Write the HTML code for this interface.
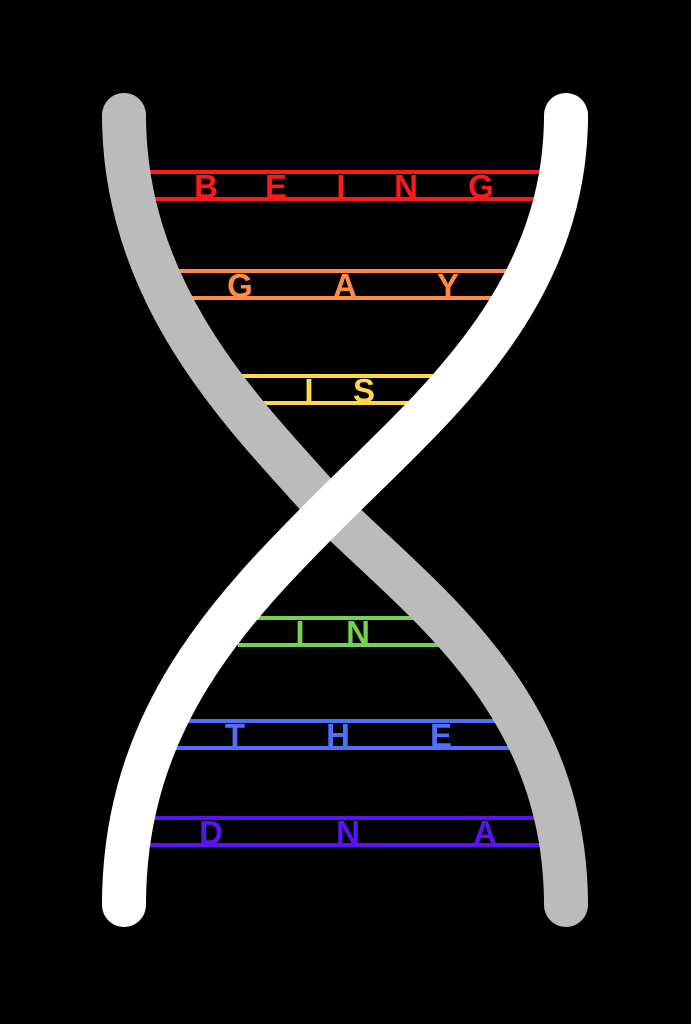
<!DOCTYPE html>
<html><head><style>html,body{margin:0;background:#000;}svg{display:block}</style></head>
<body>
<svg width="691" height="1024" viewBox="0 0 691 1024" xmlns="http://www.w3.org/2000/svg">
<rect width="691" height="1024" fill="#000"/>
<g stroke-width="4" font-family="Liberation Sans, sans-serif" font-weight="bold" font-size="33" text-anchor="middle">
<g stroke="#ff1a1a" fill="#ff1a1a">
<line x1="140" y1="172" x2="545" y2="172"/><line x1="140" y1="199" x2="545" y2="199"/>
<text stroke="none" x="206" y="198">B</text><text stroke="none" x="276" y="198">E</text><text stroke="none" x="341" y="198">I</text><text stroke="none" x="406" y="198">N</text><text stroke="none" x="481" y="198">G</text></g>
<g stroke="#ff8c42" fill="#ff8c42">
<line x1="175" y1="271" x2="510" y2="271"/><line x1="175" y1="298" x2="505" y2="298"/>
<text stroke="none" x="240" y="297">G</text><text stroke="none" x="345" y="297">A</text><text stroke="none" x="448" y="297">Y</text></g>
<g stroke="#ffd84a" fill="#ffd84a">
<line x1="235" y1="376" x2="445" y2="376"/><line x1="245" y1="403" x2="440" y2="403"/>
<text stroke="none" x="309" y="402">I</text><text stroke="none" x="364" y="402">S</text></g>
<g stroke="#77d152" fill="#77d152">
<line x1="250" y1="618" x2="450" y2="618"/><line x1="238" y1="645" x2="450" y2="645"/>
<text stroke="none" x="300" y="644">I</text><text stroke="none" x="358" y="644">N</text></g>
<g stroke="#4f6fff" fill="#4f6fff">
<line x1="185" y1="721" x2="510" y2="721"/><line x1="175" y1="748" x2="520" y2="748"/>
<text stroke="none" x="235" y="747">T</text><text stroke="none" x="338" y="747">H</text><text stroke="none" x="441" y="747">E</text></g>
<g stroke="#5a14f0" fill="#5a14f0">
<line x1="150" y1="818" x2="550" y2="818"/><line x1="150" y1="845" x2="550" y2="845"/>
<text stroke="none" x="211" y="844">D</text><text stroke="none" x="348" y="844">N</text><text stroke="none" x="485" y="844">A</text></g>
</g>
<path d="M124,115 C124,300 250,420 330,510 C420,600 566,700 566,905" fill="none" stroke="#bbbbbb" stroke-width="44" stroke-linecap="round"/>
<path d="M566,115 C566,300 430,410 330,510 C230,610 124,720 124,905" fill="none" stroke="#ffffff" stroke-width="44" stroke-linecap="round"/>
</svg>
</body></html>
